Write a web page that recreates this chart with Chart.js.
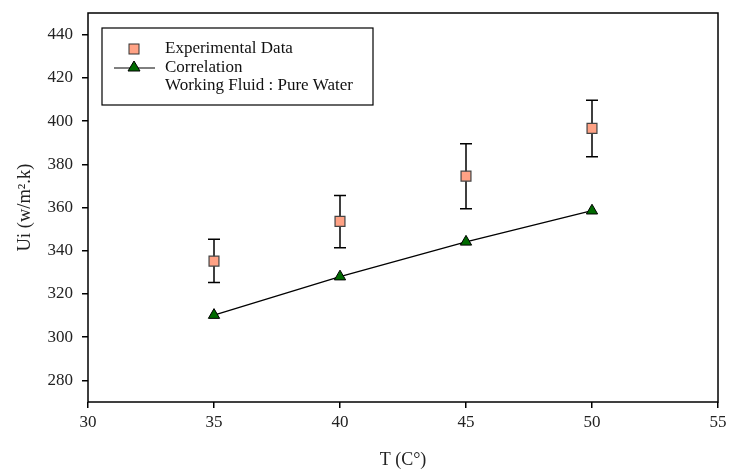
<!DOCTYPE html>
<html lang="en">
<head>
    <meta charset="UTF-8">
    <title>Ui vs T</title>
    <script src="https://cdn.jsdelivr.net/npm/chart.js@4.4.0/dist/chart.umd.min.js"></script>
    <style>
        body { margin: 0; background: #fff; }
        #wrap { width: 729px; height: 471px; }
    </style>
</head>
<body>
    <div id="wrap"><canvas id="chart" width="729" height="471"></canvas></div>
    <script>
// data
const temps = [35, 40, 45, 50];
const expValues = [335.2, 353.6, 374.5, 396.6];
const expErrLow = [325.3, 341.4, 359.4, 383.5];
const expErrHigh = [345.3, 365.6, 389.5, 409.6];
const corrValues = [310.2, 328.0, 344.1, 358.5];
const xTicks = [30, 35, 40, 45, 50, 55];
const yTicks = [280, 300, 320, 340, 360, 380, 400, 420, 440];

const serif = 'Liberation Serif';

// error bars + frame + legend box
const extras = {
    id: 'extras',
    beforeDatasetsDraw(chart) {
        const ctx = chart.ctx;
        const x = chart.scales.x, y = chart.scales.y;
        ctx.save();
        ctx.strokeStyle = '#000';
        ctx.lineWidth = 1.5;
        temps.forEach((t, i) => {
            const px = x.getPixelForValue(t);
            const lo = y.getPixelForValue(expErrLow[i]);
            const hi = y.getPixelForValue(expErrHigh[i]);
            ctx.beginPath();
            ctx.moveTo(px, lo); ctx.lineTo(px, hi);
            ctx.moveTo(px - 6, lo); ctx.lineTo(px + 6, lo);
            ctx.moveTo(px - 6, hi); ctx.lineTo(px + 6, hi);
            ctx.stroke();
        });
        ctx.restore();
    },
    afterDraw(chart) {
        const ctx = chart.ctx;
        const a = chart.chartArea;
        ctx.save();
        ctx.strokeStyle = '#000';
        ctx.lineWidth = 1.5;
        ctx.strokeRect(a.left, a.top, a.right - a.left, a.bottom - a.top);

        // legend box
        const lx = a.left + 14, ly = a.top + 15;
        ctx.lineWidth = 1.2;
        ctx.strokeRect(lx, ly, 271, 77);
        ctx.fillStyle = '#ffa285';
        ctx.strokeStyle = '#333';
        ctx.lineWidth = 1;
        ctx.fillRect(lx + 27, ly + 16, 10, 10);
        ctx.strokeRect(lx + 27, ly + 16, 10, 10);
        ctx.strokeStyle = '#000';
        ctx.beginPath();
        ctx.moveTo(lx + 12, ly + 40); ctx.lineTo(lx + 53, ly + 40);
        ctx.stroke();
        ctx.fillStyle = '#006a00';
        ctx.beginPath();
        ctx.moveTo(lx + 32, ly + 33); ctx.lineTo(lx + 38, ly + 43); ctx.lineTo(lx + 26, ly + 43);
        ctx.closePath();
        ctx.fill(); ctx.stroke();
        ctx.fillStyle = '#111';
        ctx.font = '17px ' + serif;
        ctx.textBaseline = 'middle';
        ctx.fillText('Experimental Data', lx + 63, ly + 21);
        ctx.fillText('Correlation', lx + 63, ly + 40);
        ctx.fillText('Working Fluid : Pure Water', lx + 63, ly + 58);
        ctx.restore();
    }
};

new Chart(document.getElementById('chart'), {
    type: 'scatter',
    data: {
        datasets: [{
            label: 'Correlation',
            data: temps.map((t, i) => ({ x: t, y: corrValues[i] })),
            showLine: true,
            borderColor: '#000',
            borderWidth: 1.3,
            pointStyle: 'triangle',
            pointRadius: 6.5,
            pointBackgroundColor: '#006a00',
            pointBorderColor: '#000',
            pointBorderWidth: 1
        }, {
            label: 'Experimental Data',
            data: temps.map((t, i) => ({ x: t, y: expValues[i] })),
            pointStyle: 'rect',
            pointRadius: 7,
            pointBackgroundColor: '#ffa285',
            pointBorderColor: '#444',
            pointBorderWidth: 1.2
        }]
    },
    options: {
        responsive: false,
        animation: false,
        layout: { padding: { left: 0, top: 13, right: 11, bottom: 0 } },
        plugins: { legend: { display: false }, tooltip: { enabled: false } },
        scales: {
            x: {
                type: 'linear',
                min: 30, max: 55,
                afterBuildTicks: s => { s.ticks = xTicks.map(v => ({ value: v })); },
                afterFit: s => { s.height = 69; s.paddingLeft = 0; s.paddingRight = 0; },
                grid: { drawOnChartArea: false, tickLength: 6, color: '#000', lineWidth: 1.5 },
                border: { display: false },
                ticks: { color: '#222', font: { family: serif, size: 17 }, padding: 4, maxRotation: 0 },
                title: { display: true, text: 'T (C\u00B0)', color: '#222', font: { family: serif, size: 18 }, padding: { top: 7, bottom: 0 } }
            },
            y: {
                min: 270, max: 450,
                afterBuildTicks: s => { s.ticks = yTicks.map(v => ({ value: v })); },
                afterFit: s => { s.width = 88; s.paddingTop = 0; s.paddingBottom = 0; },
                grid: { drawOnChartArea: false, tickLength: 6, color: '#000', lineWidth: 1.5 },
                border: { display: false },
                ticks: { color: '#222', font: { family: serif, size: 17 }, padding: 9 },
                title: { display: true, text: 'Ui (w/m\u00B2.k)', color: '#222', font: { family: serif, size: 18.5 }, padding: { bottom: 0, top: 14 } }
            }
        }
    },
    plugins: [extras]
});
    </script>
</body>
</html>
